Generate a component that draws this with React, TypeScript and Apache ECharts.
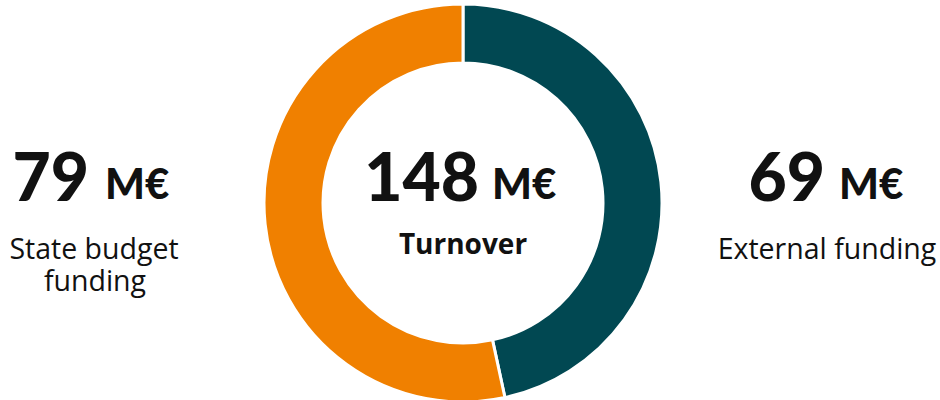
import React, { useEffect, useRef } from "react";
import * as echarts from "echarts";

const categories = ["External funding", "State budget funding"];
const values = [69, 79];
const colors = ["#014852", "#f08000"];
const unit = "M€";
const centerLabel = "Turnover";
const leftLabelLines = ["State budget", "funding"];

const NUM_FONT = "Lato, Roboto, sans-serif";
const LBL_FONT = "'Open Sans', 'Noto Sans', sans-serif";

export default function App() {
  const ref = useRef<HTMLDivElement>(null);
  useEffect(() => {
    document.body.style.margin = "0";
    if (!ref.current) return;
    const chart = echarts.init(ref.current, null, { renderer: "svg" });
    const total = values.reduce((a, b) => a + b, 0);

    const numStyle = (text: string, x: number, y: number) => ({
      type: "text",
      x,
      y,
      style: {
        text,
        font: `900 66px ${NUM_FONT}`,
        fill: "#111111",
        align: "right",
        verticalAlign: "middle",
      },
    });
    const unitStyle = (x: number, y: number) => ({
      type: "text",
      x,
      y,
      style: {
        text: unit,
        font: `900 42px ${NUM_FONT}`,
        fill: "#111111",
        align: "left",
        verticalAlign: "middle",
      },
    });
    const labelStyle = (text: string, x: number, y: number, weight = 400, size = 28.5) => ({
      type: "text",
      x,
      y,
      style: {
        text,
        font: `${weight} ${size}px ${LBL_FONT}`,
        fill: "#111111",
        align: "center",
        verticalAlign: "middle",
      },
    });

    chart.setOption({
      animation: false,
      series: [
        {
          type: "pie",
          center: [463, 203],
          radius: [140, 199],
          startAngle: 90,
          clockwise: true,
          label: { show: false },
          labelLine: { show: false },
          silent: true,
          itemStyle: { borderColor: "#ffffff", borderWidth: 3 },
          data: categories.map((name, i) => ({
            name,
            value: values[i],
            itemStyle: { color: colors[i] },
          })),
        },
      ],
      graphic: [
        numStyle(String(values[1]), 89, 175),
        unitStyle(105, 183),
        labelStyle(leftLabelLines[0], 94, 248),
        labelStyle(leftLabelLines[1], 95, 280),
        numStyle(String(total), 479, 175),
        unitStyle(492, 183),
        labelStyle(centerLabel, 463, 243, 700, 28),
        numStyle(String(values[0]), 825, 175),
        unitStyle(839, 183),
        labelStyle(categories[0], 827, 248),
      ],
    });
    return () => chart.dispose();
  }, []);
  return <div ref={ref} style={{ width: 940, height: 400 }} />;
}
